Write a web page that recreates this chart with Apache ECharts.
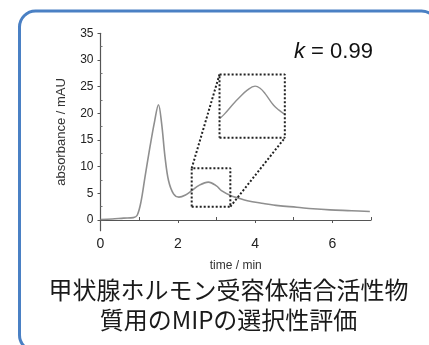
<!DOCTYPE html>
<html><head><meta charset="utf-8">
<script src="https://cdn.jsdelivr.net/npm/echarts@6/dist/echarts.min.js"></script>
<style>html,body{margin:0;padding:0;background:#fff}#c{width:429px;height:345px}</style>
</head><body><div id="c"></div>
<script>
// Chromatogram data (time / min, absorbance / mAU)
const times = [0, 0.3, 0.6, 0.85, 0.95, 1.05, 1.15, 1.28, 1.4, 1.5, 1.58, 1.67, 1.76, 1.89, 2.03, 2.2, 2.36, 2.55, 2.79, 3.0, 3.13, 3.39, 3.53, 3.8, 4.22, 4.6, 5.08, 5.5, 5.94, 6.5, 6.97];
const absorb = [0.1, 0.2, 0.35, 0.45, 0.9, 3.5, 8.0, 13.7, 18.5, 21.6, 18.2, 11.8, 7.4, 4.9, 4.3, 4.7, 5.5, 6.5, 7.1, 6.4, 5.5, 4.5, 4.2, 3.6, 3.1, 2.7, 2.4, 2.1, 1.9, 1.75, 1.6];
// Magnified inset curve (drawn in data coords of the main plot)
const insetT = [3.08, 3.2, 3.44, 3.6, 3.79, 4.0, 4.13, 4.26, 4.48, 4.62, 4.77];
const insetV = [19.0, 19.8, 21.8, 23.0, 24.3, 25.1, 24.7, 23.7, 21.5, 20.6, 19.8];
// Zoom boxes [x0, x1, y0, y1]
const smallBox = [2.36, 3.36, 2.5, 9.7];
const largeBox = [3.08, 4.77, 15.4, 27.3];
// Tick values
const xTicks = [0, 2, 4, 6];
const xMinor = [1, 3, 5, 7];
const yTicks = [0, 5, 10, 15, 20, 25, 30, 35];
const yMinor = [2.5, 7.5, 12.5, 17.5, 22.5, 27.5, 32.5];
const kLabel = '0.99';
const caption1 = '甲状腺ホルモン受容体結合活性物';
const caption2 = '質用のMIPの選択性評価';

function rect(b){return [[b[0],b[2]],[b[1],b[2]],[b[1],b[3]],[b[0],b[3]],[b[0],b[2]]];}
const pair = (a,b)=>a.map((v,i)=>[v,b[i]]);
const FONT = 'Liberation Sans';
const dotted = {color:'#222', width:2, type:[2,2]};

const chart = echarts.init(document.getElementById('c'), null, {renderer:'canvas'});
chart.setOption({
  animation:false,
  backgroundColor:'#fff',
  grid:{left:100.5, top:33.3, width:270.5, height:197.4},
  xAxis:[{
    type:'value', min:0, max:7,
    name:'time / min', nameLocation:'middle', nameGap:29,
    nameTextStyle:{fontFamily:FONT, fontSize:12, color:'#333'},
    axisLine:{lineStyle:{color:'#555', width:1.2}},
    axisTick:{customValues:xTicks, length:3, lineStyle:{color:'#555'}},
    axisLabel:{customValues:xTicks, margin:6, fontFamily:FONT, fontSize:14, color:'#222'},
    splitLine:{show:false}
  },{
    type:'value', min:0, max:7, position:'bottom',
    axisLine:{show:false},
    axisTick:{customValues:xMinor, inside:true, length:3, lineStyle:{color:'#555'}},
    axisLabel:{show:false}, splitLine:{show:false}
  }],
  yAxis:[{
    type:'value', min:-2, max:35,
    name:'absorbance / mAU', nameLocation:'middle', nameGap:33, nameRotate:90,
    nameTextStyle:{fontFamily:FONT, fontSize:13, color:'#333'},
    axisLine:{show:true, lineStyle:{color:'#555', width:1.2}},
    axisTick:{show:true, customValues:yTicks, length:3, lineStyle:{color:'#555'}},
    axisLabel:{customValues:yTicks, margin:7, fontFamily:FONT, fontSize:12, color:'#222'},
    splitLine:{show:false}
  },{
    type:'value', min:-2, max:35, position:'left',
    axisLine:{show:false},
    axisTick:{show:true, customValues:yMinor, inside:true, length:2, lineStyle:{color:'#777'}},
    axisLabel:{show:false}, splitLine:{show:false}
  }],
  series:[
    {type:'line', data:pair(times,absorb), smooth:0.35, symbol:'none',
     lineStyle:{color:'#8f8f8f', width:1.6}},
    {type:'line', data:pair(insetT,insetV), smooth:0.4, symbol:'none',
     lineStyle:{color:'#8f8f8f', width:1.4}},
    {type:'line', data:rect(smallBox), symbol:'none', lineStyle:dotted},
    {type:'line', data:rect(largeBox), symbol:'none', lineStyle:dotted},
    {type:'line', data:[[smallBox[0],smallBox[3]],[largeBox[0],largeBox[3]]], symbol:'none', lineStyle:dotted},
    {type:'line', data:[[smallBox[1],smallBox[2]],[largeBox[1],largeBox[2]]], symbol:'none', lineStyle:dotted}
  ],
  graphic:[
    {type:'rect', shape:{x:19.5, y:11, width:418, height:340, r:16}, z:-1,
     style:{fill:'none', stroke:'#4a80c4', lineWidth:3}},
    {type:'text', left:294, top:41,
     style:{text:'{k|k} = '+kLabel, fill:'#111', fontSize:22, fontFamily:FONT,
       rich:{k:{fontStyle:'italic', fontSize:22, fontFamily:FONT, fill:'#111'}}}},
    {type:'text', x:228.5, y:290,
     style:{text:caption1, fill:'#1a1a1a', align:'center', verticalAlign:'middle',
       fontSize:24, fontFamily:'Noto Sans CJK JP'}},
    {type:'text', x:228.5, y:320,
     style:{text:caption2, fill:'#1a1a1a', align:'center', verticalAlign:'middle',
       fontSize:24, fontFamily:'Noto Sans CJK JP'}}
  ]
});
</script></body></html>
